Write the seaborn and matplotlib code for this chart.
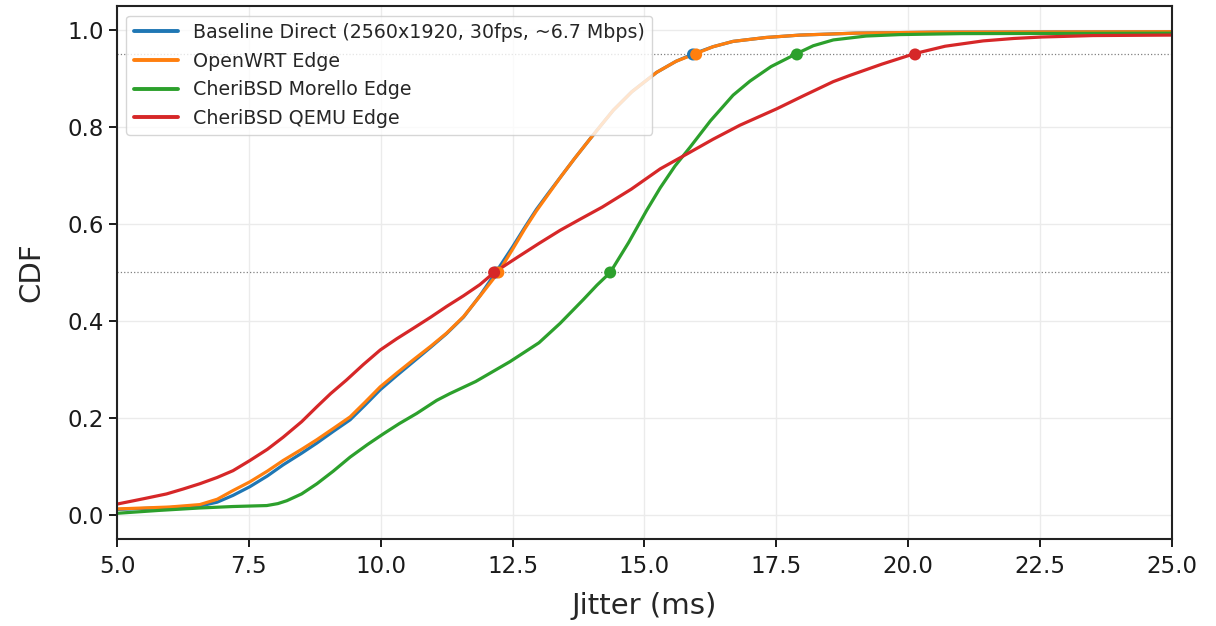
import matplotlib
matplotlib.use("Agg")
import matplotlib.pyplot as plt
import numpy as np
import pandas as pd
import seaborn as sns

SERIES = [
    "Baseline Direct (2560x1920, 30fps, ~6.7 Mbps)",
    "OpenWRT Edge",
    "CheriBSD Morello Edge",
    "CheriBSD QEMU Edge",
]
COLORS = ["#1f77b4", "#ff7f0e", "#2ca02c", "#d62728"]

# jitter (ms) / cdf pairs
baseline_x = [5.0, 5.5, 6.0, 6.57, 6.9, 7.2, 7.52, 7.85, 8.15, 8.5, 8.79, 9.1, 9.42, 9.7,
              9.99, 10.3, 10.62, 10.95, 11.25, 11.57, 11.88, 12.18, 12.5, 12.73, 12.95,
              13.18, 13.43, 13.68, 13.97, 14.2, 14.41, 14.76, 15.23, 15.6, 15.92, 16.3,
              16.68, 17.3, 17.95, 19.0, 20.5, 25.0]
baseline_y = [0.011, 0.013, 0.015, 0.018, 0.026, 0.04, 0.058, 0.08, 0.103, 0.127, 0.148,
              0.172, 0.196, 0.226, 0.258, 0.287, 0.316, 0.346, 0.374, 0.408, 0.452, 0.5,
              0.553, 0.593, 0.63, 0.664, 0.70, 0.736, 0.776, 0.807, 0.835, 0.873, 0.913,
              0.936, 0.951, 0.966, 0.977, 0.985, 0.99, 0.994, 0.996, 0.997]

openwrt_x = [5.0, 5.5, 6.0, 6.57, 6.9, 7.2, 7.52, 7.85, 8.15, 8.5, 8.79, 9.1, 9.42, 9.7,
             9.99, 10.3, 10.62, 10.95, 11.25, 11.57, 11.88, 12.23, 12.5, 12.73, 12.95,
             13.18, 13.43, 13.68, 13.97, 14.2, 14.41, 14.76, 15.23, 15.6, 15.98, 16.3,
             16.68, 17.3, 17.95, 19.0, 20.5, 25.0]
openwrt_y = [0.012, 0.014, 0.016, 0.021, 0.032, 0.05, 0.068, 0.09, 0.112, 0.135, 0.155,
             0.178, 0.202, 0.232, 0.264, 0.292, 0.32, 0.348, 0.375, 0.409, 0.451, 0.5,
             0.548, 0.59, 0.627, 0.662, 0.70, 0.736, 0.776, 0.807, 0.835, 0.873, 0.913,
             0.936, 0.952, 0.966, 0.977, 0.985, 0.99, 0.994, 0.996, 0.997]

morello_x = [5.0, 5.8, 6.57, 7.2, 7.84, 8.05, 8.22, 8.5, 8.79, 9.1, 9.42, 9.75, 10.05,
             10.35, 10.68, 11.06, 11.31, 11.8, 12.45, 13.0, 13.4, 13.84, 14.1, 14.35,
             14.7, 15.04, 15.3, 15.58, 15.86, 16.25, 16.68, 17.0, 17.4, 17.89, 18.2,
             18.58, 19.2, 19.84, 21.0, 25.0]
morello_y = [0.003, 0.009, 0.014, 0.017, 0.019, 0.023, 0.029, 0.043, 0.064, 0.09, 0.119,
             0.145, 0.167, 0.188, 0.209, 0.236, 0.25, 0.275, 0.316, 0.355, 0.395, 0.444,
             0.474, 0.5, 0.562, 0.628, 0.675, 0.72, 0.758, 0.813, 0.866, 0.895, 0.925,
             0.952, 0.968, 0.98, 0.988, 0.991, 0.993, 0.994]

qemu_x = [5.0, 5.5, 5.94, 6.25, 6.57, 6.9, 7.2, 7.52, 7.85, 8.15, 8.5, 8.79, 9.05, 9.35,
          9.67, 9.99, 10.3, 10.62, 10.95, 11.25, 11.57, 11.88, 12.15, 12.6, 13.0, 13.4,
          13.78, 14.2, 14.75, 15.3, 15.86, 16.3, 16.81, 17.51, 18.0, 18.58, 18.9, 19.5,
          20.13, 20.7, 21.42, 22.0, 22.53, 23.5, 25.0]
qemu_y = [0.022, 0.033, 0.043, 0.053, 0.064, 0.077, 0.091, 0.112, 0.135, 0.16, 0.192,
          0.223, 0.25, 0.278, 0.31, 0.34, 0.363, 0.385, 0.408, 0.43, 0.452, 0.475, 0.5,
          0.532, 0.56, 0.587, 0.61, 0.635, 0.672, 0.714, 0.748, 0.775, 0.804, 0.838,
          0.864, 0.894, 0.907, 0.93, 0.952, 0.967, 0.978, 0.983, 0.986, 0.989, 0.99]

# p50 / p95 markers
p50 = [12.18, 12.23, 14.35, 12.15]
p95 = [15.92, 15.98, 17.89, 20.13]

xs = [baseline_x, openwrt_x, morello_x, qemu_x]
ys = [baseline_y, openwrt_y, morello_y, qemu_y]

frames = []
for name, x, y in zip(SERIES, xs, ys):
    frames.append(pd.DataFrame({"jitter": x, "cdf": y, "series": name}))
df = pd.concat(frames, ignore_index=True)

marks = pd.DataFrame({
    "jitter": p50 + p95,
    "cdf": [0.5] * 4 + [0.95] * 4,
    "series": SERIES + SERIES,
})

sns.set_style("ticks")
plt.rcParams["font.family"] = ["DejaVu Sans"]

fig, ax = plt.subplots(figsize=(12.16, 6.26), dpi=100)
fig.subplots_adjust(left=0.0962, right=0.9638, top=0.9904, bottom=0.139)

ax.grid(True, color="#ebebeb", linewidth=1.0)
ax.set_axisbelow(True)
ax.axhline(0.5, color="gray", linestyle=":", linewidth=0.9, zorder=1)
ax.axhline(0.95, color="gray", linestyle=":", linewidth=0.9, zorder=1)

sns.lineplot(data=df, x="jitter", y="cdf", hue="series", hue_order=SERIES,
             palette=COLORS, linewidth=2.3, sort=True, estimator=None, ax=ax)
sns.scatterplot(data=marks, x="jitter", y="cdf", hue="series", hue_order=SERIES,
                palette=COLORS, s=75, edgecolor="none", legend=False, zorder=5, ax=ax)

ax.set_xlim(5, 25)
ax.set_ylim(-0.05, 1.05)
ax.set_xticks(np.arange(5, 25.1, 2.5))
ax.set_yticks([0.0, 0.2, 0.4, 0.6, 0.8, 1.0])
ax.set_xlabel("Jitter (ms)", fontsize=21, labelpad=10)
ax.set_ylabel("CDF", fontsize=21, labelpad=16)
ax.tick_params(labelsize=16.5, width=1.4, length=6, colors="#1a1a1a")
ax.tick_params(axis="x", pad=5.5)
for s in ax.spines.values():
    s.set_linewidth(1.5)
    s.set_color("#222222")

leg = ax.legend(loc="upper left", fontsize=13.7, frameon=True, handlelength=2.3,
                borderaxespad=0.5)
leg.get_frame().set_edgecolor("#cccccc")
for line in leg.get_lines():
    line.set_linewidth(2.8)

fig.savefig("out.png", dpi=100)
